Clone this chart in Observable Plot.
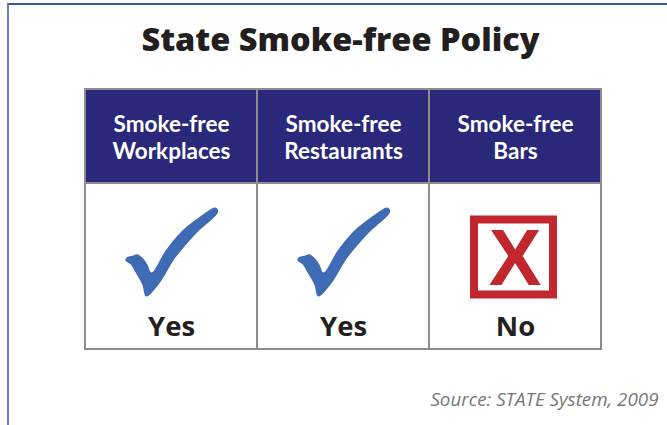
<!DOCTYPE html>
<html>
<head>
<meta charset="utf-8">
<script src="https://cdn.jsdelivr.net/npm/d3@7"></script>
<script src="https://cdn.jsdelivr.net/npm/@observablehq/plot@0.6"></script>
<style>
  html, body { margin: 0; padding: 0; background: #fff; }
  #wrap { position: relative; width: 667px; height: 425px; overflow: hidden; background: #fff; }
  #border { position: absolute; left: 7px; top: 3px; right: -10px; bottom: -10px;
            border-left: 2px solid #6b7dbd; border-top: 2px solid #3c56a6; }
  #chart { position: absolute; left: 0; top: 0; }
  g[aria-label="header"] { letter-spacing: 0.8px; }
</style>
</head>
<body>
<div id="wrap"><div id="border"></div><div id="chart"></div></div>
<script>
// ---- data ----
const chartTitle = "State Smoke-free Policy";
const sourceNote = "Source: STATE System, 2009";
const policies = ["Smoke-free Workplaces", "Smoke-free Restaurants", "Smoke-free Bars"];
const headerLine1 = ["Smoke-free", "Smoke-free", "Smoke-free"];
const headerLine2 = ["Workplaces", "Restaurants", "Bars"];
const statuses = ["Yes", "Yes", "No"];

const table = policies.map((p, i) => ({policy: p, line1: headerLine1[i], line2: headerLine2[i], status: statuses[i]}));
const yesRows = table.filter(d => d.status === "Yes");
const noRows = table.filter(d => d.status === "No");

// ---- custom symbols ----
const checkSymbol = {
  draw(context, size) {
    const k = Math.sqrt(size / Math.PI) / 46;
    const pts = [[44,-45],[46.7,-41],[24,-18.3],[4,5],[-12.7,31.7],[-25.3,44],[-29.3,31.7],
                 [-36,20],[-41,11.7],[-46,8.3],[-45,5],[-39.3,3.3],[-34.3,1.7],[-29.3,5],
                 [-24.3,11.7],[-20,20],[-6,-1.7],[10.7,-21.7],[27.3,-35]];
    d3.line().context(context).curve(d3.curveCatmullRomClosed.alpha(0.5))(pts.map(([x, y]) => [x * k, y * k]));
  }
};
const boxSymbol = {
  draw(context, size) {
    const k = Math.sqrt(size / Math.PI) / 44;
    const w = 79 * k, h = 75 * k;
    context.rect(-w / 2, -h / 2, w, h);
  }
};

const navy = "#29287b", grid = "#8c8c8c", blue = "#3e6bb4", red = "#c1272d", ink = "#231f20";

const chart = Plot.plot({
  width: 667,
  height: 425,
  marginLeft: 84,
  marginRight: 65,
  marginTop: 89,
  marginBottom: 76,
  x: {domain: policies, padding: 0, axis: null},
  style: {fontFamily: "'Open Sans', sans-serif", background: "transparent", overflow: "visible"},
  marks: [
    // body cells
    Plot.cell(table, {x: "policy", fill: "#fff", stroke: grid, strokeWidth: 2, insetTop: 94}),
    // header cells
    Plot.cell(table, {x: "policy", fill: navy, stroke: grid, strokeWidth: 2, insetBottom: 166}),
    // header labels (two lines)
    Plot.text(table, {x: "policy", text: "line1", frameAnchor: "top", dy: 35.2, lineAnchor: "middle", ariaLabel: "header",
      fill: "#fff", fontSize: 22.5, fontWeight: 700, fontFamily: "Lato, sans-serif"}),
    Plot.text(table, {x: "policy", text: "line2", frameAnchor: "top", dy: 62.4, lineAnchor: "middle", ariaLabel: "header",
      fill: "#fff", fontSize: 22.5, fontWeight: 700, fontFamily: "Lato, sans-serif"}),
    // check marks for Yes
    Plot.dot(yesRows, {x: "policy", frameAnchor: "top", dy: 163, r: 46, symbol: checkSymbol, fill: blue, stroke: "none"}),
    // box + X for No
    Plot.dot(noRows, {x: "policy", frameAnchor: "top", dy: 167.4, dx: -2, r: 44, symbol: boxSymbol, fill: "none", stroke: red, strokeWidth: 8}),
    Plot.text(noRows, {x: "policy", text: () => "X", frameAnchor: "top", dy: 170, dx: -0.5, lineAnchor: "middle",
      fill: red, fontSize: 79, fontWeight: 700, fontFamily: "'Liberation Sans', sans-serif"}),
    // status words
    Plot.text(table, {x: "policy", text: "status", frameAnchor: "top", dy: 237.5, lineAnchor: "middle",
      fill: ink, fontSize: 27.5, fontWeight: 700}),
    // title
    Plot.text([chartTitle], {text: d => d, frameAnchor: "top", dy: -49, dx: -3, lineAnchor: "middle",
      fill: ink, fontSize: 32.5, fontWeight: 800}),
    // source
    Plot.text([sourceNote], {text: d => d, frameAnchor: "bottom-right", textAnchor: "end", dx: 56, dy: 50,
      lineAnchor: "middle", fill: "#777", fontSize: 18.8, fontStyle: "italic"})
  ]
});
document.getElementById("chart").appendChild(chart);
</script>
</body>
</html>
